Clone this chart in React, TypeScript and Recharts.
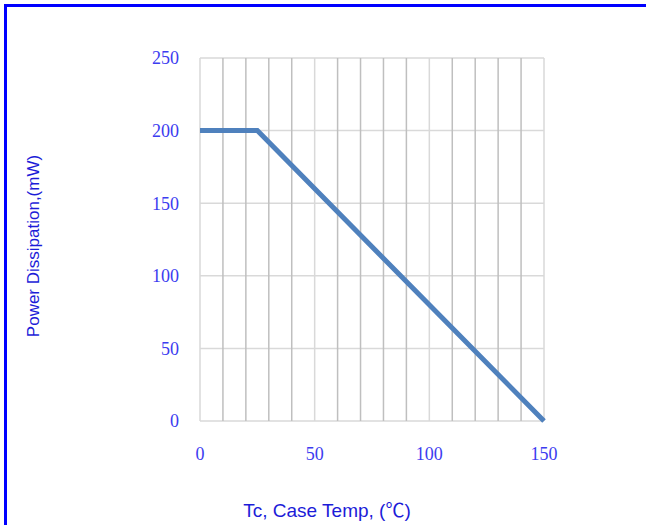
import React from 'react';
import { LineChart, Line, XAxis, YAxis, CartesianGrid, ReferenceLine } from 'recharts';

// derating curve: flat to 25°C, then linear down to 0 at 150°C
const caseTemp = [0, 25, 150];
const powerMw = [200, 200, 0];

const xMajorTicks = [0, 50, 100, 150];
const xMinorTicks = [10, 20, 30, 40, 60, 70, 80, 90, 110, 120, 130, 140];
const yTicks = [0, 50, 100, 150, 200, 250];

const data = caseTemp.map((t, i) => ({ t, p: powerMw[i] }));

const TICK_STYLE = { fontSize: 18, fill: '#3c3cf0', fontFamily: '"Liberation Serif", "Times New Roman", serif' };
const TITLE_STYLE: React.CSSProperties = {
  position: 'absolute',
  fontFamily: '"Liberation Sans", Arial, sans-serif',
  color: '#1c1cd8',
  whiteSpace: 'nowrap',
  lineHeight: 1,
};

export default function App() {
  return (
    <div style={{ position: 'absolute', left: 0, top: 0, width: 646, height: 525, overflow: 'hidden', background: '#fff' }}>
      <div
        style={{
          position: 'absolute',
          left: 4,
          top: 4,
          width: 700,
          height: 600,
          borderTop: '3px solid #0000ff',
          borderLeft: '3px solid #0000ff',
        }}
      />
      <div style={{ position: 'absolute', left: 0, top: 0 }}>
        <LineChart width={646} height={525} data={data} margin={{ top: 58, right: 102, bottom: 74, left: 140 }}>
          <CartesianGrid stroke="#d9d9d9" strokeWidth={1.5} />
          {xMinorTicks.map((x) => (
            <ReferenceLine key={x} x={x} stroke="#bfbfbf" strokeWidth={1.5} />
          ))}
          <XAxis
            dataKey="t"
            type="number"
            domain={[0, 150]}
            ticks={xMajorTicks}
            height={30}
            axisLine={false}
            tickLine={false}
            tickSize={0}
            tickMargin={26}
            tick={TICK_STYLE}
            interval={0}
          />
          <YAxis
            type="number"
            domain={[0, 250]}
            ticks={yTicks}
            width={60}
            axisLine={false}
            tickLine={false}
            tickSize={0}
            tickMargin={21}
            tick={TICK_STYLE}
            interval={0}
          />
          <Line
            type="linear"
            dataKey="p"
            stroke="#4f81bd"
            strokeWidth={5}
            dot={false}
            isAnimationActive={false}
          />
        </LineChart>
      </div>
      <div style={{ ...TITLE_STYLE, fontSize: 19, left: 327, top: 509, transform: 'translate(-50%, -50%)' }}>
        Tc, Case Temp, (<span style={{ fontFamily: '"Noto Sans CJK SC", sans-serif' }}>℃</span>)
      </div>
      <div
        style={{
          ...TITLE_STYLE,
          fontSize: 17,
          left: 33,
          top: 246,
          transform: 'translate(-50%, -50%) rotate(-90deg)',
        }}
      >
        Power Dissipation,(mW)
      </div>
    </div>
  );
}
